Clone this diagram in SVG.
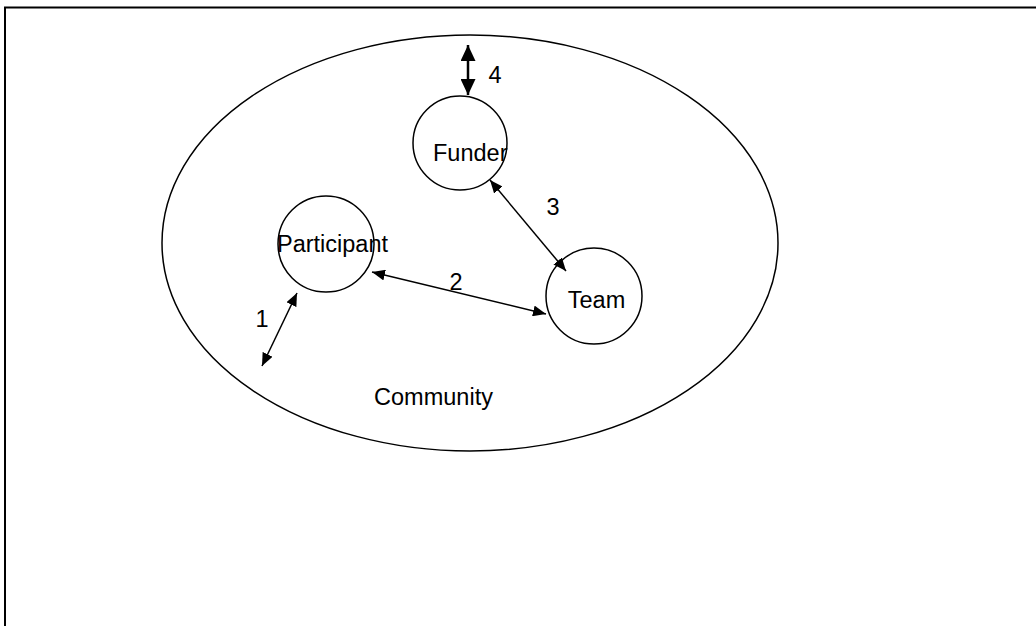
<svg xmlns="http://www.w3.org/2000/svg" width="1036" height="626" viewBox="0 0 1036 626">
<style>
.ln{stroke:#000;stroke-width:1.5;fill:none}
.tx{font-family:"Liberation Sans",Arial,sans-serif;font-size:23.5px;fill:#000}
</style>
<defs>
<marker id="ah" viewBox="0 0 13 11" refX="13" refY="5.5" markerWidth="13" markerHeight="11" markerUnits="userSpaceOnUse" orient="auto-start-reverse">
<path d="M0,0 L13,5.5 L0,11 z" fill="#000"/>
</marker>
<marker id="ahb" viewBox="0 0 16 15" refX="16" refY="7.5" markerWidth="16" markerHeight="15" markerUnits="userSpaceOnUse" orient="auto-start-reverse">
<path d="M0,0 L16,7.5 L0,15 z" fill="#000"/>
</marker>
</defs>
<rect width="1036" height="626" fill="#fff"/>
<path d="M5,626 V7.5 H1036" stroke="#000" stroke-width="2" fill="none"/>
<g id="community">
<ellipse cx="470" cy="243" rx="308" ry="208" class="ln"/>
<text x="433.5" y="405" class="tx" text-anchor="middle">Community</text>
</g>
<g id="connectors">
<line x1="468" y1="45" x2="468" y2="95" stroke="#000" stroke-width="2.5" marker-start="url(#ahb)" marker-end="url(#ahb)"/>
<line x1="262" y1="366" x2="297" y2="293" class="ln" marker-start="url(#ah)" marker-end="url(#ah)"/>
<line x1="372" y1="272" x2="546" y2="314" class="ln" marker-start="url(#ah)" marker-end="url(#ah)"/>
<line x1="490" y1="180" x2="566" y2="271" class="ln" marker-start="url(#ah)" marker-end="url(#ah)"/>
<text x="495" y="83" class="tx" text-anchor="middle">4</text>
<text x="262" y="327" class="tx" text-anchor="middle">1</text>
<text x="456" y="290" class="tx" text-anchor="middle">2</text>
<text x="553" y="215" class="tx" text-anchor="middle">3</text>
</g>
<g id="funder">
<circle cx="460" cy="143" r="47" class="ln"/>
<text x="433" y="161" class="tx">Funder</text>
</g>
<g id="participant">
<circle cx="326" cy="244" r="48" class="ln"/>
<text x="277" y="252" class="tx">Participant</text>
</g>
<g id="team">
<circle cx="594" cy="296" r="48" class="ln"/>
<text x="596.5" y="308" class="tx" text-anchor="middle">Team</text>
</g>
</svg>
